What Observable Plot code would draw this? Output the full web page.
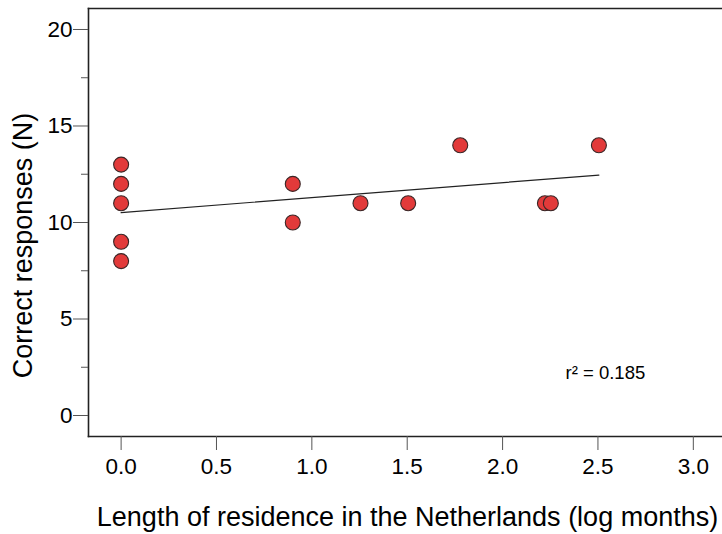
<!DOCTYPE html>
<html>
<head>
<meta charset="utf-8">
<script src="https://cdn.jsdelivr.net/npm/d3@7"></script>
<script src="https://cdn.jsdelivr.net/npm/@observablehq/plot@0.6"></script>
<style>
  html, body { margin: 0; padding: 0; background: #fff; overflow: hidden; }
  svg { display: block; font-family: "Liberation Sans", Arial, sans-serif; }
</style>
</head>
<body>
<div id="chart"></div>
<script>
// Data: log months of residence vs correct responses
const residence = [0, 0, 0, 0, 0, 0.9, 0.9, 1.255, 1.505, 1.778, 2.222, 2.253, 2.505];
const correct   = [13, 12, 11, 9, 8, 12, 10, 11, 11, 14, 11, 11, 14];
const xTicks = [0, 0.5, 1, 1.5, 2, 2.5, 3];
const yTicks = [0, 5, 10, 15, 20];
const yMinorTicks = [2.5, 7.5, 12.5, 17.5];
const xTitle = "Length of residence in the Netherlands (log months)";
const yTitle = "Correct responses (N)";
const annotation = [{x: 2.33, y: 2.2, label: "r\u00B2 = 0.185"}];

const data = residence.map((x, i) => ({x, y: correct[i]}));
const FONT = "Liberation Sans, Arial, sans-serif";

const chart = Plot.plot({
  width: 722,
  height: 534,
  marginTop: 8,
  marginLeft: 88,
  marginRight: 0,
  marginBottom: 98,
  style: {fontFamily: FONT, background: "#fff", color: "#000"},
  x: {domain: [-0.171, 3.153]},
  y: {domain: [-1.088, 21.088]},
  marks: [
    Plot.frame({anchor: "left", stroke: "#222", strokeWidth: 1.6}),
    Plot.frame({anchor: "bottom", stroke: "#222", strokeWidth: 1.6}),
    Plot.frame({anchor: "top", stroke: "#222", strokeWidth: 1.6}),
    Plot.axisY(yMinorTicks, {tickSize: 7, tickFormat: () => "", stroke: "#555", label: null}),
    Plot.axisY(yTicks, {tickSize: 15, tickPadding: 1, fontSize: 22.5, stroke: "#555", label: null}),
    Plot.axisX(xTicks, {
      tickSize: 14, tickPadding: 8, fontSize: 22.5, stroke: "#555",
      tickFormat: d3.format(".1f"), label: null
    }),
    Plot.text([xTitle], {
      frameAnchor: "bottom", text: d => d, fontSize: 27, fontFamily: FONT,
      textAnchor: "middle", lineAnchor: "middle", dx: 2, dy: 81, fill: "#000"
    }),
    Plot.text([yTitle], {
      frameAnchor: "left", text: d => d, fontSize: 27, fontFamily: FONT, rotate: -90,
      textAnchor: "middle", lineAnchor: "middle", dx: -65, dy: 23, fill: "#000"
    }),
    Plot.linearRegressionY(data, {x: "x", y: "y", ci: 0, stroke: "#222", strokeWidth: 1.2}),
    Plot.dot(data, {x: "x", y: "y", r: 7.5, fill: "#e23a3a", stroke: "#3a2626", strokeWidth: 1.1}),
    Plot.text(annotation, {
      x: "x", y: "y", text: "label", textAnchor: "start", fontSize: 18.5,
      fontFamily: FONT, fill: "#000"
    })
  ]
});
document.getElementById("chart").appendChild(chart);
</script>
</body>
</html>
